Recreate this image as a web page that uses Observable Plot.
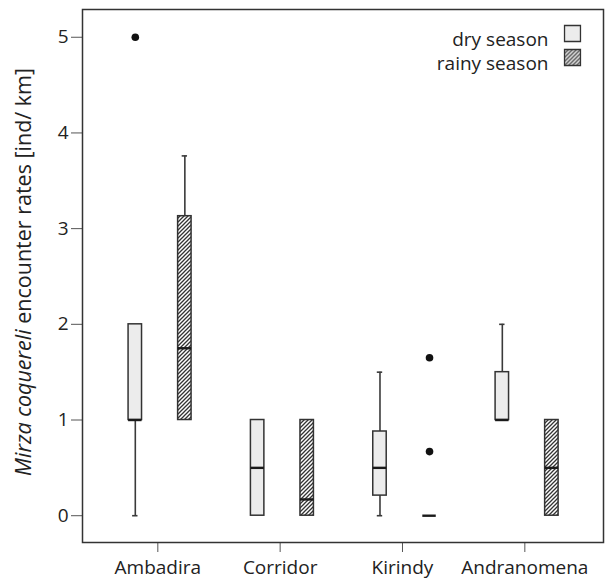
<!DOCTYPE html>
<html>
<head>
<meta charset="utf-8">
<script src="https://cdn.jsdelivr.net/npm/d3@7"></script>
<script src="https://cdn.jsdelivr.net/npm/@observablehq/plot@0.6"></script>
<style>
  body { margin: 0; background: #fff; }
  #chart { position: relative; width: 607px; height: 580px; }
</style>
</head>
<body>
<div id="chart"></div>
<script>
// Categories
const sites = ["Ambadira", "Corridor", "Kirindy", "Andranomena"];
const seasons = ["dry season", "rainy season"];
const yTicks = [0, 1, 2, 3, 4, 5];

// Dry season box statistics (per site)
const dryMin = [0, 0, 0, 1];
const dryQ1 = [1, 0, 0.21, 1];
const dryMedian = [1, 0.5, 0.5, 1];
const dryQ3 = [2, 1, 0.88, 1.5];
const dryMax = [2, 1, 1.5, 2];
const dryOutliers = [[5], [], [], []];

// Rainy season box statistics (per site)
const rainyMin = [1, 0, 0, 0];
const rainyQ1 = [1, 0, 0, 0];
const rainyMedian = [1.75, 0.17, 0, 0.5];
const rainyQ3 = [3.13, 1, 0, 1];
const rainyMax = [3.76, 1, 0, 1];
const rainyOutliers = [[], [], [0.67, 1.65], []];

const offsets = {"dry season": -0.184, "rainy season": 0.221};
const halfW = 0.055, capHalf = 0.022;

const stats = {
  "dry season": {lo: dryMin, q1: dryQ1, med: dryMedian, q3: dryQ3, hi: dryMax, out: dryOutliers},
  "rainy season": {lo: rainyMin, q1: rainyQ1, med: rainyMedian, q3: rainyQ3, hi: rainyMax, out: rainyOutliers}
};
const boxes = [];
const outliers = [];
sites.forEach((site, i) => {
  seasons.forEach(season => {
    const s = stats[season];
    const x = i + 1 + offsets[season];
    boxes.push({site, season, x, lo: s.lo[i], q1: s.q1[i], med: s.med[i], q3: s.q3[i], hi: s.hi[i]});
    s.out[i].forEach(v => outliers.push({site, season, x, y: v}));
  });
});
const fillFor = d => d.season === "dry season" ? "#ececec" : "url(#hatch)";
const lowW = boxes.filter(d => d.lo < d.q1);
const highW = boxes.filter(d => d.hi > d.q3);

const svg = Plot.plot({
  width: 607,
  height: 580,
  marginLeft: 82,
  marginRight: 4,
  marginTop: 9,
  marginBottom: 38,
  style: {fontFamily: "'Open Sans', sans-serif", fontSize: "19px", color: "#222", background: "#fff"},
  x: {type: "linear", domain: [0.3844, 4.643], ticks: [1, 2, 3, 4], tickFormat: d => sites[d - 1], tickSize: 10, tickPadding: 8, label: null},
  y: {domain: [-0.28, 5.29], ticks: yTicks, tickFormat: d => String(d), tickSize: 11, tickPadding: 3, label: null},
  marks: [
    Plot.ruleX(lowW, {x: "x", y1: "lo", y2: "q1", stroke: "#3a3a3a", strokeWidth: 1.6}),
    Plot.ruleX(highW, {x: "x", y1: "q3", y2: "hi", stroke: "#3a3a3a", strokeWidth: 1.6}),
    Plot.ruleY(lowW, {y: "lo", x1: d => d.x - capHalf, x2: d => d.x + capHalf, stroke: "#3a3a3a", strokeWidth: 1.6}),
    Plot.ruleY(highW, {y: "hi", x1: d => d.x - capHalf, x2: d => d.x + capHalf, stroke: "#3a3a3a", strokeWidth: 1.6}),
    Plot.rect(boxes, {x1: d => d.x - halfW, x2: d => d.x + halfW, y1: "q1", y2: "q3", fill: fillFor, stroke: "#333", strokeWidth: 1.5}),
    Plot.ruleY(boxes, {y: "med", x1: d => d.x - halfW, x2: d => d.x + halfW, stroke: "#1a1a1a", strokeWidth: 2.4}),
    Plot.dot(outliers, {x: "x", y: "y", r: 3.8, fill: "#111", stroke: "none"}),
    Plot.frame({stroke: "#333", strokeWidth: 1.5}),
    // legend
    Plot.text([seasons[0]], {text: d => d, frameAnchor: "top-right", dx: -55, dy: 23, textAnchor: "end", fontSize: 19, fill: "#222"}),
    Plot.text([seasons[1]], {text: d => d, frameAnchor: "top-right", dx: -55, dy: 47, textAnchor: "end", fontSize: 19, fill: "#222"}),
    Plot.dot([seasons[0]], {frameAnchor: "top-right", dx: -31, dy: 24, symbol: "square", r: 9, fill: "#ececec", stroke: "#333", strokeWidth: 1.3}),
    Plot.dot([seasons[1]], {frameAnchor: "top-right", dx: -31, dy: 48, symbol: "square", r: 9, fill: "url(#hatch)", stroke: "#333", strokeWidth: 1.3})
  ]
});

const sel = d3.select(svg);
sel.insert("defs", ":first-child").html(
  '<pattern id="hatch" patternUnits="userSpaceOnUse" width="4" height="4">' +
  '<rect width="4" height="4" fill="#fff"/>' +
  '<path d="M-1,1 l2,-2 M0,4 l4,-4 M3,5 l2,-2" stroke="#333" stroke-width="1.3"/>' +
  '</pattern>'
);
sel.selectAll("[aria-label='y-axis tick'], [aria-label='x-axis tick']").attr("stroke", "#555");

// Y axis title with italic species name
const yt = sel.append("text")
  .attr("transform", "translate(31,272) rotate(-90)")
  .attr("text-anchor", "middle")
  .attr("fill", "#222")
  .style("font-family", "'Open Sans', sans-serif")
  .style("font-size", "21.5px");
yt.append("tspan").attr("font-style", "italic").text("Mirza coquereli");
yt.append("tspan").text(" encounter rates [ind/ km]");

document.getElementById("chart").appendChild(svg);
</script>
</body>
</html>
